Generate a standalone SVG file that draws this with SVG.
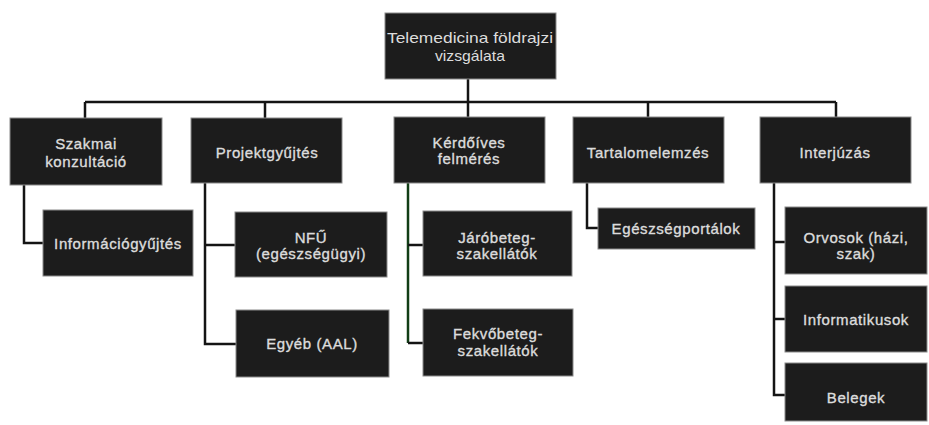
<svg xmlns="http://www.w3.org/2000/svg" width="929" height="425" viewBox="0 0 929 425">
<style>
.box{fill:#1c1c1c;stroke:#8a8a8a;stroke-width:1}
.t{font-family:"Liberation Sans",Arial,sans-serif;font-size:15px;letter-spacing:0.6px;fill:#dcdcdc;stroke:#dcdcdc;stroke-width:0.35;text-anchor:middle;dominant-baseline:central}
.n{font-family:"Liberation Sans Narrow","Liberation Sans",Arial,sans-serif;font-size:15px;letter-spacing:0;stroke-width:0}
.c{fill:none;stroke:#141414;stroke-width:2.5}
.g{fill:none;stroke:#123d16;stroke-width:2.5}
</style>
<rect width="929" height="425" fill="#ffffff"/>
<g id="connectors">
<path class="c" d="M468 79V117M85 102H836M85 102V118M265 102V118M648 102V117M836 102V117"/>
<path class="c" d="M24 185V243H43"/>
<path class="c" d="M205 183V344H236M205 245H235"/>
<path class="g" d="M408 183V343"/>
<path class="c" d="M408 245H423M408 343H423"/>
<path class="c" d="M587 183V228H598"/>
<path class="c" d="M774 183V395H785M774 242H785M774 319H785"/>
</g>
<g id="root"><rect class="box" x="385" y="13" width="171" height="66"/><text class="t n" x="470" y="37" textLength="166" lengthAdjust="spacingAndGlyphs">Telemedicina  földrajzi</text><text class="t n" x="470" y="55" textLength="70" lengthAdjust="spacingAndGlyphs">vizsgálata</text></g>
<g id="szakmai"><rect class="box" x="10" y="118" width="152" height="67"/><text class="t" x="86" y="143">Szakmai</text><text class="t" x="86" y="161">konzultáció</text></g>
<g id="projekt"><rect class="box" x="191" y="118" width="151" height="65"/><text class="t" x="267" y="152">Projektgyűjtés</text></g>
<g id="kerdoives"><rect class="box" x="394" y="117" width="151" height="66"/><text class="t" x="469" y="142">Kérdőíves</text><text class="t" x="469" y="158">felmérés</text></g>
<g id="tartalom"><rect class="box" x="573" y="117" width="151" height="66"/><text class="t" x="648" y="152">Tartalomelemzés</text></g>
<g id="interju"><rect class="box" x="760" y="117" width="151" height="66"/><text class="t" x="835" y="152">Interjúzás</text></g>
<g id="informacio"><rect class="box" x="43" y="210" width="150" height="66"/><text class="t" x="118" y="243">Információgyűjtés</text></g>
<g id="nfu"><rect class="box" x="235" y="212" width="152" height="65"/><text class="t" x="311" y="237">NFŰ</text><text class="t" x="311" y="253">(egészségügyi)</text></g>
<g id="jarobeteg"><rect class="box" x="423" y="211" width="149" height="65"/><text class="t" x="497" y="237">Járóbeteg-</text><text class="t" x="497" y="253">szakellátók</text></g>
<g id="egeszseg"><rect class="box" x="598" y="208" width="157" height="41"/><text class="t" x="676" y="228">Egészségportálok</text></g>
<g id="orvosok"><rect class="box" x="785" y="207" width="142" height="67"/><text class="t" x="856" y="237">Orvosok  (házi,</text><text class="t" x="856" y="253">szak)</text></g>
<g id="egyeb"><rect class="box" x="236" y="310" width="153" height="67"/><text class="t" x="312" y="343">Egyéb  (AAL)</text></g>
<g id="fekvobeteg"><rect class="box" x="423" y="309" width="150" height="67"/><text class="t" x="498" y="333">Fekvőbeteg-</text><text class="t" x="498" y="350">szakellátók</text></g>
<g id="informatikusok"><rect class="box" x="785" y="286" width="142" height="66"/><text class="t" x="856" y="319">Informatikusok</text></g>
<g id="belegek"><rect class="box" x="785" y="363" width="142" height="58"/><text class="t" x="856" y="397">Belegek</text></g>
</svg>
